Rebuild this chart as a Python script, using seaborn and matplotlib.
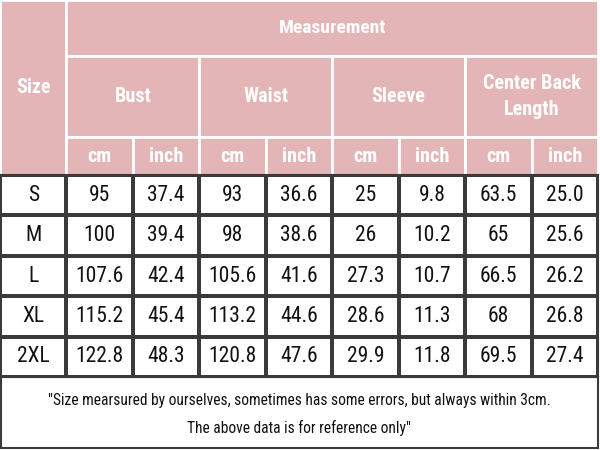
import numpy as np
import pandas as pd
import seaborn as sns
import matplotlib.pyplot as plt
from matplotlib.colors import ListedColormap
from matplotlib.patches import Rectangle

sizes = ['S', 'M', 'L', 'XL', '2XL']
bust_cm = ['95', '100', '107.6', '115.2', '122.8']
bust_in = ['37.4', '39.4', '42.4', '45.4', '48.3']
waist_cm = ['93', '98', '105.6', '113.2', '120.8']
waist_in = ['36.6', '38.6', '41.6', '44.6', '47.6']
sleeve_cm = ['25', '26', '27.3', '28.6', '29.9']
sleeve_in = ['9.8', '10.2', '10.7', '11.3', '11.8']
cbl_cm = ['63.5', '65', '66.5', '68', '69.5']
cbl_in = ['25.0', '25.6', '26.2', '26.8', '27.4']

groups = ['Bust', 'Waist', 'Sleeve', 'Center Back\nLength']
units = ['cm', 'inch']
title = 'Measurement'
note = ('"Size mearsured by ourselves, sometimes has some errors, but always within 3cm.\n'
        'The above data is for reference only"')

sns.set_theme(style='white')
plt.rcParams['font.family'] = ['Roboto Condensed', 'Liberation Sans', 'DejaVu Sans']

table = pd.DataFrame({'Size': sizes,
                      'Bust cm': bust_cm, 'Bust inch': bust_in,
                      'Waist cm': waist_cm, 'Waist inch': waist_in,
                      'Sleeve cm': sleeve_cm, 'Sleeve inch': sleeve_in,
                      'CBL cm': cbl_cm, 'CBL inch': cbl_in})

pink = '#e4b5b7'
grid = '#3a3a3a'
W, H = 600, 450
right = 598
col_w = right / 9
y_title, y_group, y_unit, y_body, y_note = 56, 137, 175, 377, 448

fig = plt.figure(figsize=(6, 4.5), dpi=100)

# header + note drawn in pixel coordinates
bg = fig.add_axes([0, 0, 1, 1])
bg.set_xlim(0, W)
bg.set_ylim(H, 0)
bg.axis('off')

def cell(x0, y0, x1, y1, text, size):
    bg.add_patch(Rectangle((x0, y0), x1 - x0, y1 - y0, facecolor=pink,
                           edgecolor='white', linewidth=2))
    bg.text((x0 + x1) / 2, (y0 + y1) / 2, text, ha='center', va='center',
            color='white', fontsize=size, fontweight='bold', linespacing=1.45)

cell(0, 0, col_w, y_unit, 'Size', 14.5)
cell(col_w, 0, right, y_title, title, 14)
for i, g in enumerate(groups):
    x0 = col_w * (1 + 2 * i)
    cell(x0, y_title, x0 + 2 * col_w, y_group, g, 14.5)
    for j, u in enumerate(units):
        cell(x0 + j * col_w, y_group, x0 + (j + 1) * col_w, y_unit, u, 14.5)

bg.add_patch(Rectangle((0.8, y_body), right - 0.8, y_note - y_body,
                       facecolor='white', edgecolor=grid, linewidth=1.5))
bg.text(right / 2, (y_body + y_note) / 2 + 2, note, ha='center', va='center',
        color='#111111', fontsize=11.2, linespacing=1.95)

# body as a seaborn heatmap
ax = fig.add_axes([0, 1 - y_body / H, right / W, (y_body - y_unit) / H])
vals = np.zeros(table.shape)
sns.heatmap(vals, ax=ax, cmap=ListedColormap(['white']), cbar=False,
            annot=table.values, fmt='', linewidths=1.5, linecolor=grid,
            annot_kws={'fontsize': 15.5, 'color': '#111111'},
            xticklabels=False, yticklabels=False)
for s in ax.spines.values():
    s.set_visible(True)
    s.set_color(grid)
    s.set_linewidth(1.5)

fig.savefig('out.png', dpi=100)
